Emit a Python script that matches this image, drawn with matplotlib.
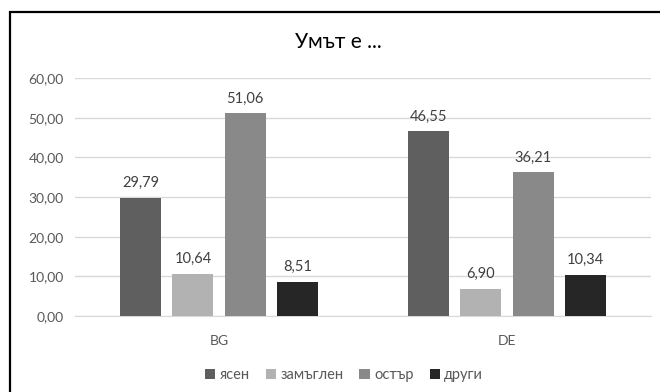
import numpy as np
import matplotlib.pyplot as plt
from matplotlib.patches import Rectangle

plt.rcParams['font.family'] = ['Lato', 'DejaVu Sans']

# data
groups = ['BG', 'DE']
series = ['ясен', 'замъглен', 'остър', 'други']
values = [
    [29.79, 46.55],
    [10.64, 6.90],
    [51.06, 36.21],
    [8.51, 10.34],
]
colors = ['#5f5f5f', '#b2b2b2', '#898989', '#262626']
yticks = [0, 10, 20, 30, 40, 50, 60]

fig = plt.figure(figsize=(6.6, 3.92), dpi=100)
ax = fig.add_axes([75 / 660, 1 - 316 / 392, 576 / 660, 238 / 392])

# outer frame (cropped at right and bottom)
fig.patches.append(Rectangle((10 / 660, -0.05), 1.0, 1 - 12 / 392 + 0.05,
                             transform=fig.transFigure, fill=False,
                             edgecolor='black', linewidth=1.6))

x = np.arange(len(groups))
width = 0.142
step = 0.181
for i, (name, vals) in enumerate(zip(series, values)):
    pos = x + (i - 1.5) * step
    bars = ax.bar(pos, vals, width, color=colors[i], label=name, zorder=3)
    for b, v in zip(bars, vals):
        ax.text(b.get_x() + b.get_width() / 2, v + 2.0, f'{v:.2f}'.replace('.', ','),
                ha='center', va='bottom', fontsize=10.5, color='#404040')

ax.set_xlim(-0.5, 1.5)
ax.set_ylim(0, 60)
ax.set_yticks(yticks)
ax.set_yticklabels([f'{t:.2f}'.replace('.', ',') for t in yticks], fontsize=10, color='#595959')
ax.set_xticks(x)
ax.set_xticklabels(groups, fontsize=10, color='#595959')
ax.tick_params(axis='both', length=0, pad=8)
ax.tick_params(axis='x', pad=14)
ax.grid(axis='y', color='#d9d9d9', linewidth=1, zorder=0)
for s in ['top', 'right', 'left']:
    ax.spines[s].set_visible(False)
ax.spines['bottom'].set_color('#d9d9d9')

fig.text(338 / 660, 1 - 42 / 392, 'Умът е ...', ha='center', va='center', fontsize=15, color='#000000')

fig.legend(loc='center', bbox_to_anchor=(344 / 660, 1 - 375 / 392), ncol=4, frameon=False,
           fontsize=10.5, handlelength=0.7, handleheight=0.7, handletextpad=0.3,
           columnspacing=1.1, labelcolor='#595959')

fig.savefig('out.png', dpi=100)
